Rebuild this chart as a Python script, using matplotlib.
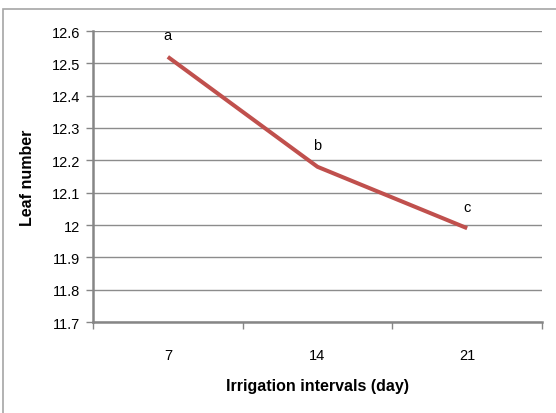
import matplotlib.pyplot as plt
from matplotlib.patches import Rectangle

plt.rcParams['font.family'] = ['Liberation Sans', 'DejaVu Sans']

intervals = ["7", "14", "21"]
leaf_number = [12.52, 12.18, 11.99]
letters = ["a", "b", "c"]
yticks = [11.7, 11.8, 11.9, 12.0, 12.1, 12.2, 12.3, 12.4, 12.5, 12.6]
ytick_labels = ["11.7", "11.8", "11.9", "12", "12.1", "12.2", "12.3", "12.4", "12.5", "12.6"]

fig = plt.figure(figsize=(5.56, 4.14), dpi=100)
ax = fig.add_axes([93/556, 1 - 323/414, (542 - 93)/556, (323 - 32)/414])

# outer chart border (only top/left visible in the reference)
fig.patches.append(Rectangle((3/556, -0.05), 1.1, 1 - 10/414 + 0.05,
                             transform=fig.transFigure, fill=False,
                             edgecolor="#a6a6a6", linewidth=1.2))

x = list(range(len(intervals)))
ax.plot(x, leaf_number, color="#c0504d", linewidth=2.9, solid_capstyle="butt")
for xi, yi, lab in zip(x, leaf_number, letters):
    ax.text(xi, yi + 0.045, lab, ha="center", va="bottom", fontsize=10.5)

ax.set_xlim(-0.5, 2.5)
ax.set_ylim(11.7, 12.6)
ax.set_yticks(yticks)
ax.set_yticklabels(ytick_labels)
ax.set_xticks(x)
ax.set_xticklabels(intervals)
ax.set_xticks([-0.5, 0.5, 1.5, 2.5], minor=True)
ax.tick_params(axis="x", which="major", length=0, pad=19, labelsize=10.5)
ax.tick_params(axis="x", which="minor", length=5, color="#868686", width=1)
ax.tick_params(axis="y", length=5, color="#868686", width=1, labelsize=10.5, pad=4)

ax.grid(axis="y", color="#8c8c8c", linewidth=1.0)
ax.set_axisbelow(True)
for side in ["top", "right"]:
    ax.spines[side].set_visible(False)
for side in ["left", "bottom"]:
    ax.spines[side].set_color("#868686")
    ax.spines[side].set_linewidth(1.8)

ax.set_xlabel("Irrigation intervals (day)", fontsize=11.5, fontweight="bold", labelpad=11)
ax.set_ylabel("Leaf number", fontsize=11.5, fontweight="bold", labelpad=12)

fig.savefig("out.png", dpi=100)
